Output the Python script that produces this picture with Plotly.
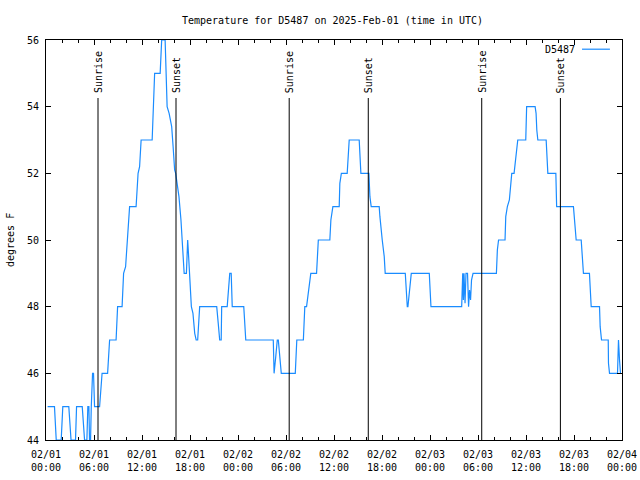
import pandas as pd
import plotly.graph_objects as go

# ---- data ----
start_date = "2025-02-01 00:00"
end_date = "2025-02-04 00:00"
series_name = "D5487"

hours = [0.20, 1.06, 1.28, 1.90, 2.10, 2.85, 3.13, 3.69, 3.82, 4.53, 4.82, 5.11, 5.23, 5.36,
         5.44, 5.57, 5.66, 5.82, 5.94, 6.07, 6.70, 7.01, 7.70, 7.95, 8.76, 8.95, 9.51, 9.70,
         9.95, 10.26, 10.45, 11.26, 11.51, 11.70, 11.89, 13.27, 13.58, 14.27, 14.46, 14.89,
         15.14, 15.39, 15.71, 15.89, 16.08, 16.21, 16.42, 16.62, 16.87, 17.05, 17.27, 17.55,
         17.71, 17.83, 17.96, 18.17, 18.37, 18.59, 18.77, 18.96, 19.21, 21.34, 21.53, 21.71,
         21.90, 21.96, 22.65, 22.78, 22.97, 23.15, 23.28, 24.72, 24.97, 28.41, 28.51, 28.72,
         28.91, 29.04, 29.22, 29.41, 31.16, 31.35, 32.17, 32.35, 32.57, 32.89, 33.10, 33.82,
         34.04, 35.48, 35.61, 35.86, 36.65, 36.73, 36.92, 37.65, 37.77, 37.90, 39.15, 39.24,
         39.36, 40.36, 40.49, 40.65, 41.65, 41.74, 41.86, 42.03, 42.28, 42.40, 44.91, 45.06,
         45.16, 45.24, 45.37, 45.49, 45.66, 47.91, 48.00, 48.12, 51.96, 52.09, 52.17, 52.25,
         52.38, 52.50, 52.69, 52.82, 52.94, 53.07, 53.19, 53.38, 56.30, 56.42, 56.57, 57.38,
         57.47, 57.67, 57.92, 58.05, 58.22, 58.51, 58.67, 58.85, 58.97, 59.97, 60.08, 61.14,
         61.26, 61.35, 61.48, 62.52, 62.60, 62.73, 63.73, 63.83, 65.93, 66.06, 66.18, 66.27,
         66.90, 67.02, 67.18, 67.93, 68.02, 68.15, 69.19, 69.27, 69.44, 70.28, 70.31, 70.44,
         71.44, 71.46, 71.56, 71.69, 71.81]

temps = [45, 45, 44, 44, 45, 45, 44, 44, 45, 45, 44, 44, 45, 45,
         44, 44, 45, 46, 46, 45, 45, 46, 46, 47, 47, 48, 48, 49,
         49.2, 50.5, 51, 51, 52, 52.2, 53, 53, 55, 55, 56, 56,
         54, 53.8, 53.4, 52.8, 52.1, 52, 51.7, 51.3, 50.6, 50, 49, 49,
         50, 49.5, 48.8, 48, 47.8, 47.2, 47, 47, 48, 48, 47.5, 47,
         47, 48, 48, 48.5, 49, 49, 48, 48, 47, 47, 46, 46.5,
         47, 47, 46.5, 46, 46, 47, 47, 48, 48, 48.6, 49, 49,
         50, 50, 50.6, 51, 51, 51.7, 52, 52, 52.7, 53, 53, 52.7,
         52, 52, 51.3, 51, 51, 50.7, 50.3, 50, 49.5, 49, 49, 48.3,
         48, 48, 48.3, 48.6, 49, 49, 48.5, 48, 48, 49, 48.2, 49,
         48.1, 49, 49, 48, 48.5, 48.2, 48.8, 49, 49, 49.7, 50, 50,
         50.7, 51, 51.2, 51.7, 52, 52, 52.4, 52.8, 53, 53, 54, 54,
         53.8, 53.3, 53, 53, 52.5, 52, 52, 51, 51, 50.6, 50.1, 50,
         50, 49.5, 49, 49, 48.3, 48, 48, 47.4, 47, 47, 46.3, 46,
         46, 46.5, 47, 46.4, 46]

sun_events = ["2025-02-01 06:30", "2025-02-01 16:15", "2025-02-02 06:24",
              "2025-02-02 16:17", "2025-02-03 06:28", "2025-02-03 16:18"]
sun_labels = ["Sunrise", "Sunset", "Sunrise", "Sunset", "Sunrise", "Sunset"]
sun_line_top = 54.26

y_min, y_max = 44, 56

title_text = "Temperature for D5487 on 2025-Feb-01 (time in UTC)"
y_title = "degrees F"

# ---- figure ----
FONT = "DejaVu Sans Mono"
BLUE = "#1a8cff"
W, H = 640, 480

base = pd.Timestamp(start_date)
times = [base + pd.Timedelta(hours=h) for h in hours]

fig = go.Figure()
fig.add_trace(go.Scatter(x=times, y=temps, mode="lines", name=series_name,
                         line=dict(color=BLUE, width=1.2), showlegend=False))

for t, lab in zip(sun_events, sun_labels):
    fig.add_shape(type="line", xref="x", yref="y", x0=t, x1=t, y0=y_min, y1=sun_line_top,
                  line=dict(color="black", width=1))
    fig.add_annotation(x=t, y=sun_line_top, xref="x", yref="y", text=lab, textangle=-90,
                       showarrow=False, xanchor="center", yanchor="bottom", yshift=3,
                       font=dict(family=FONT, size=10, color="black"))

# manual gnuplot-style key (text then sample line)
fig.add_annotation(xref="paper", yref="paper", x=0.9224, y=0.977, text=series_name,
                   showarrow=False, xanchor="right", yanchor="middle",
                   font=dict(family=FONT, size=10, color="black"))
fig.add_shape(type="line", xref="paper", yref="paper", x0=0.9306, x1=0.979, y0=0.977, y1=0.977,
              line=dict(color=BLUE, width=1.2))

# y axis title
fig.add_annotation(xref="paper", yref="paper", x=0, y=0.5, xshift=-36, text=y_title,
                   textangle=-90, showarrow=False, xanchor="center", yanchor="middle",
                   font=dict(family=FONT, size=10, color="black"))

fig.update_layout(
    width=W, height=H,
    margin=dict(l=46, r=18, t=40, b=40, autoexpand=False),
    paper_bgcolor="white", plot_bgcolor="white",
    font=dict(family=FONT, size=10, color="black"),
    title=dict(text=title_text, x=0.4974, xref="paper", y=1 - 20 / H, yref="container",
               xanchor="center", yanchor="middle", font=dict(family=FONT, size=10)),
    showlegend=False,
)

fig.update_xaxes(
    type="date", range=[start_date, end_date],
    tickmode="linear", tick0=start_date, dtick=6 * 3600 * 1000,
    tickformat="%m/%d<br>%H:%M",
    ticks="inside", ticklen=5, tickcolor="black", ticklabelstandoff=5,
    minor=dict(dtick=2 * 3600 * 1000, tick0=start_date, ticks="inside", ticklen=3,
               tickcolor="black", showgrid=False),
    showline=True, linecolor="black", linewidth=1, mirror="ticks",
    showgrid=False, zeroline=False,
    tickfont=dict(family=FONT, size=10, color="black"),
)
fig.update_yaxes(
    range=[y_min, y_max], dtick=2, tick0=y_min,
    ticks="inside", ticklen=5, tickcolor="black", ticklabelstandoff=4,
    showline=True, linecolor="black", linewidth=1, mirror="ticks",
    showgrid=False, zeroline=False,
    tickfont=dict(family=FONT, size=10, color="black"),
)

# remove the browser's default page margin so the 640x480 figure fills the window
fig.write_html("out.html",
               config={"displayModeBar": False},
               post_script="document.body.style.margin='0px';document.body.style.overflow='hidden';")
